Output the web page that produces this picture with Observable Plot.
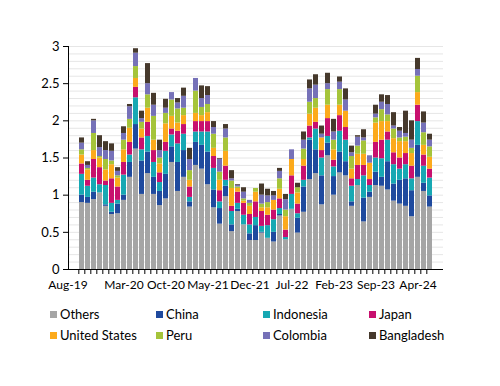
<!DOCTYPE html>
<html>
<head>
<meta charset="utf-8">
<script src="https://cdn.jsdelivr.net/npm/d3@7"></script>
<script src="https://cdn.jsdelivr.net/npm/@observablehq/plot@0.6"></script>
<style>
  body { margin: 0; background: #fff; font-family: Lato, "DejaVu Sans", sans-serif; }
  #wrap { position: relative; width: 500px; height: 386px; overflow: hidden; }
  .item { position: absolute; font-size: 13px; color: #000; line-height: 16px; white-space: nowrap; }
  .sw { display: inline-block; width: 7px; height: 7px; margin-right: 3px; vertical-align: 1px; }
</style>
</head>
<body>
<div id="wrap"></div>
<script>
const months = ["Aug-19","Sep-19","Oct-19","Nov-19","Dec-19","Jan-20","Feb-20","Mar-20","Apr-20","May-20","Jun-20","Jul-20",
  "Aug-20","Sep-20","Oct-20","Nov-20","Dec-20","Jan-21","Feb-21","Mar-21","Apr-21","May-21","Jun-21","Jul-21",
  "Aug-21","Sep-21","Oct-21","Nov-21","Dec-21","Jan-22","Feb-22","Mar-22","Apr-22","May-22","Jun-22","Jul-22",
  "Aug-22","Sep-22","Oct-22","Nov-22","Dec-22","Jan-23","Feb-23","Mar-23","Apr-23","May-23","Jun-23","Jul-23",
  "Aug-23","Sep-23","Oct-23","Nov-23","Dec-23","Jan-24","Feb-24","Mar-24","Apr-24","May-24","Jun-24"];
const tickLabels = ["Mar-20","Oct-20","May-21","Dec-21","Jul-22","Feb-23","Sep-23","Apr-24"];
const firstTickLabel = ["Aug-19"];
const seriesNames = ["Others","China","Indonesia","Japan","United States","Peru","Colombia","Bangladesh"];
const colors = ["#a5a5a5","#1f4a9e","#17a8b3","#c8106e","#fcaa1c","#a5c43a","#7671b8","#46392c"];

const others = [0.90,0.89,0.94,1.03,0.85,0.74,0.75,0.93,1.24,1.62, 1.01,1.29,1.01,0.86,0.95,1.44,1.05,1.24,0.84,1.40,
  1.35,1.14,0.83,0.61,0.98,0.51,0.78,0.60,0.39,0.39, 0.49,0.42,0.37,0.72,0.40,0.81,0.49,0.77,1.21,1.29,
  0.87,1.53,1.00,1.30,1.26,0.85,1.13,0.64,0.97,1.13, 1.12,1.07,0.92,0.88,0.85,0.71,1.24,1.05,0.84];
const china = [0.10,0.08,0.10,0.00,0.02,0.03,0.13,0.07,0.20,0.33, 0.45,0.29,0.23,0.19,0.33,0.21,0.39,0.36,0.07,0.31,
  0.32,0.44,0.24,0.21,0.14,0.09,0.03,0.00,0.09,0.20, 0.01,0.00,0.13,0.02,0.00,0.00,0.20,0.34,0.53,0.32,
  0.39,0.17,0.25,0.28,0.19,0.06,0.00,0.32,0.07,0.18, 0.12,0.38,0.23,0.32,0.37,0.35,0.43,0.11,0.15];
const indonesia = [0.28,0.15,0.19,0.11,0.26,0.12,0.05,0.27,0.10,0.36, 0.15,0.21,0.20,0.12,0.31,0.16,0.25,0.22,0.06,0.14,
  0.18,0.27,0.29,0.09,0.08,0.18,0.08,0.13,0.12,0.11, 0.08,0.17,0.17,0.08,0.03,0.20,0.06,0.09,0.03,0.28,
  0.24,0.09,0.13,0.28,0.29,0.21,0.08,0.30,0.09,0.19, 0.25,0.29,0.26,0.15,0.19,0.16,0.32,0.23,0.24];
const japan = [0.14,0.08,0.25,0.23,0.06,0.33,0.18,0.17,0.17,0.14, 0.16,0.19,0.16,0.13,0.12,0.08,0.17,0.13,0.14,0.14,
  0.14,0.14,0.16,0.15,0.19,0.07,0.15,0.16,0.14,0.21, 0.20,0.14,0.13,0.13,0.10,0.25,0.13,0.19,0.16,0.09,
  0.10,0.24,0.09,0.21,0.17,0.10,0.19,0.14,0.08,0.21, 0.25,0.11,0.16,0.15,0.15,0.17,0.22,0.15,0.12];
const unitedStates = [0.12,0.14,0.12,0.13,0.15,0.19,0.12,0.17,0.19,0.12, 0.12,0.19,0.14,0.12,0.25,0.17,0.11,0.12,0.09,0.11,
  0.08,0.12,0.11,0.14,0.20,0.24,0.05,0.03,0.11,0.13, 0.05,0.10,0.13,0.13,0.18,0.22,0.15,0.09,0.16,0.19,
  0.17,0.18,0.14,0.14,0.22,0.13,0.15,0.15,0.22,0.26, 0.25,0.14,0.19,0.22,0.16,0.17,0.17,0.13,0.16];
const peru = [0.07,0.02,0.23,0.02,0.14,0.05,0.03,0.13,0.12,0.16, 0.09,0.18,0.32,0.08,0.14,0.22,0.19,0.10,0.13,0.30,
  0.11,0.11,0.19,0.11,0.18,0.10,0.02,0.03,0.04,0.05, 0.05,0.07,0.00,0.14,0.09,0.00,0.07,0.14,0.16,0.13,
  0.00,0.21,0.13,0.21,0.00,0.17,0.11,0.18,0.00,0.07, 0.16,0.09,0.13,0.05,0.06,0.07,0.22,0.17,0.14];
const colombia = [0.09,0.04,0.17,0.12,0.12,0.13,0.06,0.09,0.17,0.18, 0.05,0.15,0.15,0.10,0.07,0.10,0.08,0.16,0.15,0.17,
  0.12,0.12,0.09,0.17,0.12,0.03,0.02,0.09,0.04,0.00, 0.12,0.09,0.06,0.10,0.14,0.13,0.00,0.12,0.18,0.18,
  0.05,0.08,0.11,0.10,0.15,0.05,0.12,0.04,0.10,0.05, 0.10,0.14,0.04,0.09,0.05,0.11,0.09,0.13,0.09];
const bangladesh = [0.07,0.05,0.02,0.16,0.12,0.10,0.05,0.09,0.03,0.06, 0.10,0.27,0.16,0.14,0.12,0.00,0.06,0.11,0.15,0.00,
  0.17,0.12,0.08,0.01,0.06,0.11,0.01,0.06,0.00,0.00, 0.15,0.09,0.06,0.04,0.07,0.00,0.06,0.11,0.12,0.14,
  0.11,0.14,0.17,0.07,0.15,0.09,0.02,0.11,0.00,0.12, 0.10,0.12,0.18,0.05,0.30,0.26,0.15,0.15,0.08];
const yTicks = [0, 0.5, 1, 1.5, 2, 2.5, 3];

const seriesValues = [others, china, indonesia, japan, unitedStates, peru, colombia, bangladesh];
const rows = [];
seriesNames.forEach((name, s) => {
  months.forEach((m, i) => rows.push({month: m, series: name, value: seriesValues[s][i]}));
});

const W = 500, H = 298, ML = 68, MR = 57, MT = 46, MB = 29;
const step = (W - ML - MR) / months.length;

// left axis line drawn from the plot's own dimensions
const leftAxisLine = (index, scales, values, dims) => {
  const g = d3.create("svg:g");
  g.append("line")
    .attr("x1", dims.marginLeft + 0.5).attr("x2", dims.marginLeft + 0.5)
    .attr("y1", scales.y(3)).attr("y2", scales.y(0))
    .attr("stroke", "#000");
  return g.node();
};

const chart = Plot.plot({
  width: W, height: H,
  marginLeft: ML, marginRight: MR, marginTop: MT, marginBottom: MB,
  style: {fontFamily: "Lato, 'DejaVu Sans', sans-serif", fontSize: "12px", color: "#000", background: "#fff"},
  x: {type: "band", domain: months, paddingInner: 0.2, paddingOuter: 0.1, label: null},
  y: {domain: [0, 3], label: null},
  color: {domain: seriesNames, range: colors},
  marks: [
    Plot.gridY(d3.range(1, 31).map(d => d / 10), {stroke: "#e6e6e6", strokeOpacity: 1}),
    Plot.barY(rows, {x: "month", y: "value", fill: "series", order: null}),
    Plot.axisY({ticks: yTicks, tickSize: 5, tickPadding: 4, tickFormat: d => String(d), stroke: "#000", fill: "#000", fontSize: 13, label: null}),
    Plot.axisX({ticks: months, tickSize: 5, tickFormat: () => "", dx: -step / 2, stroke: "#000", label: null}),
    Plot.axisX({ticks: tickLabels, tickSize: 0, tickPadding: 11, fill: "#000", fontSize: 12, label: null}),
    Plot.axisX({ticks: firstTickLabel, tickSize: 0, tickPadding: 11, dx: -14, fill: "#000", fontSize: 12, label: null}),
    Plot.ruleY([0], {stroke: "#000"}),
    leftAxisLine
  ]
});

const wrap = document.getElementById("wrap");
wrap.appendChild(chart);

const legendX = [50, 156, 263, 369];
const legendY = [306, 327];
seriesNames.forEach((name, i) => {
  const div = document.createElement("div");
  div.className = "item";
  div.style.left = legendX[i % 4] + "px";
  div.style.top = legendY[Math.floor(i / 4)] + "px";
  const sw = document.createElement("span");
  sw.className = "sw";
  sw.style.background = colors[i];
  div.appendChild(sw);
  div.appendChild(document.createTextNode(name));
  wrap.appendChild(div);
});
</script>
</body>
</html>
